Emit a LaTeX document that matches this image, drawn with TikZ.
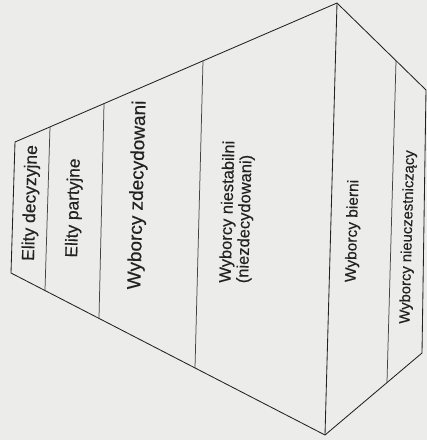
\documentclass[tikz,border=0pt]{standalone}
\usepackage{fontspec}
\setmainfont{Liberation Sans}[FakeBold=0.35]
\definecolor{paper}{HTML}{ECECEA}
\definecolor{ink}{HTML}{222222}
\newcommand{\fs}[1]{\fontsize{#1}{#1}\selectfont}
\begin{document}
\begin{tikzpicture}[x=1pt,y=-1pt,
  edge/.style={draw=ink,line width=0.85pt,line join=round},
  divider/.style={draw=ink!85,line width=0.75pt},
  lbl/.style={text=ink,rotate=88.4,align=left,inner sep=0pt}]
\fill[paper] (0,0) rectangle (427,440);
\useasboundingbox (0,0) rectangle (427,440);
% outline corners
\coordinate (LT) at (15,142);
\coordinate (LB) at (11,273);
\coordinate (AT) at (337,3);
\coordinate (AB) at (325,435);
\coordinate (RT) at (426,90);
\coordinate (RB) at (422,353);
% divider ends
\coordinate (d1t) at (50,127);
\coordinate (d1b) at (45,290);
\coordinate (d2t) at (104,104);
\coordinate (d2b) at (99,318);
\coordinate (d3t) at (203,61);
\coordinate (d3b) at (195,368);
\coordinate (d5t) at (396,61);
\coordinate (d5b) at (387,382);
\draw[edge] (LT) -- (AT) -- (RT) -- (RB) -- (AB) -- (LB) -- cycle;
\draw[edge] (AT) -- (AB);
\draw[divider] (d1t) -- (d1b);
\draw[divider] (d2t) -- (d2b);
\draw[divider] (d3t) -- (d3b);
\draw[divider] (d5t) -- (d5b);
\node[lbl,font=\fs{17.5}] (t1) at (31,203) {Elity decyzyjne};
\node[lbl,font=\fs{17.3}] (t2) at (74,208) {Elity partyjne};
\node[lbl,font=\fs{19}] (t3) at (138,195) {Wyborcy zdecydowani};
\node[lbl,font=\fontsize{16.5}{17.5}\selectfont] (t4) at (237,212) {Wyborcy niestabilni\\(niezdecydowani)};
\node[lbl,font=\fs{15.5}] (t5) at (353,231) {Wyborcy bierni};
\node[lbl,font=\fs{14.8}] (t6) at (408,237) {Wyborcy nieuczestniczący};
\end{tikzpicture}
\end{document}
